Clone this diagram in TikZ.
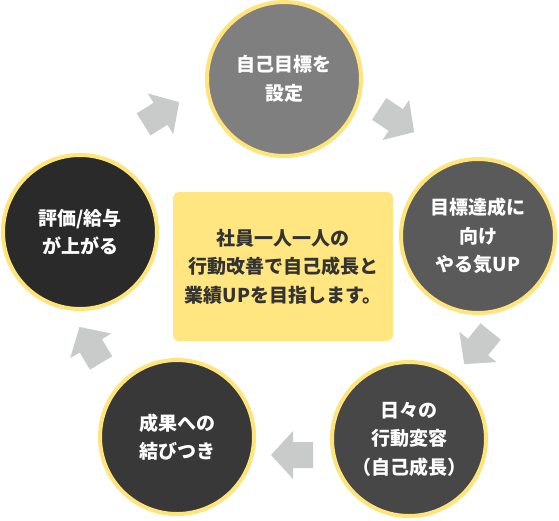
\documentclass[tikz,border=0pt]{standalone}
\usepackage{fontspec}
\setmainfont{Noto Sans CJK JP}
\usetikzlibrary{positioning}
\definecolor{ring}{HTML}{FFE47A}
\definecolor{lightyellow}{HTML}{FFE680}
\definecolor{arrowgrey}{HTML}{C9CACA}
\definecolor{ink}{HTML}{333333}
\definecolor{greyA}{HTML}{7F7F7F}
\definecolor{greyB}{HTML}{5A5A5A}
\definecolor{greyC}{HTML}{474747}
\definecolor{greyD}{HTML}{383838}
\definecolor{greyE}{HTML}{2A2A2A}
\newcommand{\jptext}{\bfseries\fontsize{19}{28.5}\selectfont}
\tikzset{
  stage/.style={circle,draw=ring,line width=4pt,minimum size=154pt,inner sep=0pt,align=center,text=white,font=\jptext},
  corebox/.style={fill=lightyellow,rounded corners=6pt,minimum width=220pt,minimum height=149pt,align=center,text=ink,font=\jptext},
  cyclearrow/.pic={\fill[arrowgrey] (-20,13) -- (0,13) -- (0,24) -- (22,0) -- (0,-24) -- (0,-13) -- (-20,-13) -- cycle;}}

\begin{document}
\begin{tikzpicture}[x=1pt,y=-1pt]
  \useasboundingbox (0,0) rectangle (559,520);
  % the five stages of the cycle
  \node[stage,fill=greyA] (goal) at (284,79) {自己目標を\\設定};
  \node[stage,fill=greyB] (motivate) at (478,236) {目標達成に\\向け\\やる気UP};
  \node[stage,fill=greyC] (change) at (409,439) {日々の\\行動変容\\（自己成長）};
  \node[stage,fill=greyD] (result) at (177,437) {成果への\\結びつき};
  \node[stage,fill=greyE] (reward) at (80,232) {評価/給与\\が上がる};
  % message in the middle
  \node[corebox] (core) at (283,266.5) {社員一人一人の\\行動改善で自己成長と\\業績UPを目指します。};
  % arrows between the stages
  \pic[rotate=32] at (160.5,113.8) {cyclearrow};
  \pic[rotate=-33.5] at (395.8,120) {cyclearrow};
  \pic[rotate=-129] at (478,347) {cyclearrow};
  \pic[rotate=180] at (293,455) {cyclearrow};
  \pic[rotate=121] at (90.8,345.8) {cyclearrow};
\end{tikzpicture}
\end{document}
